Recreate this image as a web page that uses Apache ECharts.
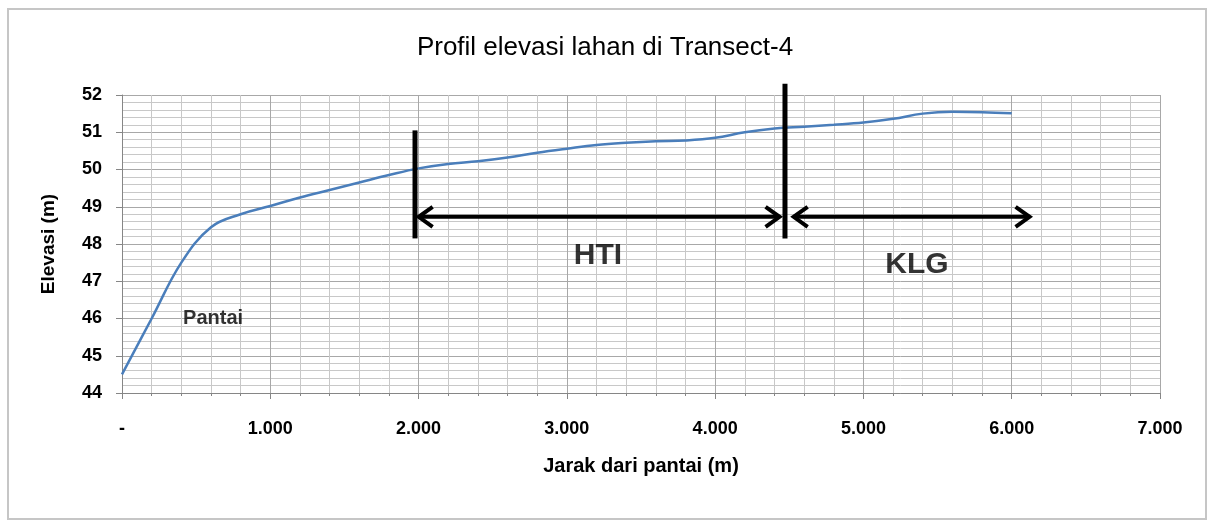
<!DOCTYPE html>
<html>
<head>
<meta charset="utf-8">
<script src="https://cdn.jsdelivr.net/npm/echarts@6/dist/echarts.min.js"></script>
<style>
html, body { margin: 0; padding: 0; background: #fff; }
#chart { width: 1210px; height: 521px; }
</style>
</head>
<body>
<div id="chart"></div>
<script>
// jarak dari pantai (m) dan elevasi (m)
var jarak = [0, 200, 400, 600, 800, 1000, 1200, 1400, 1600, 1800, 2000, 2200, 2400, 2600, 2800, 3000,
  3200, 3400, 3600, 3800, 4000, 4200, 4400, 4600, 4800, 5000, 5200, 5400, 5600, 5800, 6000];
var elevasi = [44.5, 46.0, 47.5, 48.45, 48.8, 49.02, 49.25, 49.45, 49.65, 49.85, 50.03, 50.15, 50.22, 50.32, 50.45, 50.56,
  50.66, 50.72, 50.76, 50.78, 50.85, 51.0, 51.1, 51.15, 51.2, 51.26, 51.36, 51.5, 51.55, 51.54, 51.51];

// garis batas zona: [x, elevasi atas, elevasi bawah]
var batasZona = [[1976, 51.05, 48.15], [4471, 52.3, 48.15]];
// panah zona: [x awal, x akhir, elevasi]
var panahZona = [[1987, 4448, 48.73], [4516, 6134, 48.73]];
// teks zona: [x, elevasi, teks]
var teksPantai = [[614, 46.0, 'Pantai']];
var teksZona = [[3210, 47.68, 'HTI'], [5361, 47.44, 'KLG']];

var font = 'Liberation Sans';

function fmtRibuan(v) {
  if (v === 0) return '-';
  return String(v).replace(/\B(?=(\d{3})+(?!\d))/g, '.');
}

var myChart = echarts.init(document.getElementById('chart'));

var option = {
  backgroundColor: '#fff',
  animation: false,
  title: {
    text: 'Profil elevasi lahan di Transect-4',
    left: 'center',
    top: 30,
    textStyle: { fontFamily: font, fontSize: 26, fontWeight: 'normal', color: '#000' }
  },
  graphic: [{
    type: 'rect',
    shape: { x: 8, y: 9, width: 1198, height: 510 },
    style: { fill: 'none', stroke: '#c6c6c6', lineWidth: 2 },
    silent: true
  }],
  grid: { left: 122, right: 50, top: 95, bottom: 128 },
  xAxis: {
    type: 'value',
    min: 0,
    max: 7000,
    interval: 1000,
    name: 'Jarak dari pantai (m)',
    nameLocation: 'middle',
    nameGap: 63,
    nameTextStyle: { fontFamily: font, fontSize: 20, fontWeight: 'bold', color: '#000' },
    axisLine: { lineStyle: { color: '#868686', width: 1 } },
    axisTick: { show: true, length: 6, lineStyle: { color: '#868686' } },
    minorTick: { show: true, splitNumber: 5, length: 3, lineStyle: { color: '#868686' } },
    axisLabel: { margin: 27, fontFamily: font, fontSize: 18, fontWeight: 'bold', color: '#000', formatter: fmtRibuan },
    splitLine: { show: true, lineStyle: { color: '#a8a8a8', width: 1 } },
    minorSplitLine: { show: true, lineStyle: { color: '#c8c8c8', width: 1 } }
  },
  yAxis: {
    type: 'value',
    min: 44,
    max: 52,
    interval: 1,
    name: 'Elevasi (m)',
    nameLocation: 'middle',
    nameGap: 64,
    nameTextStyle: { fontFamily: font, fontSize: 19, fontWeight: 'bold', color: '#000' },
    axisLine: { show: true, lineStyle: { color: '#868686', width: 1 } },
    axisTick: { show: true, length: 6, lineStyle: { color: '#868686' } },
    minorTick: { show: false },
    axisLabel: { margin: 20, fontFamily: font, fontSize: 18, fontWeight: 'bold', color: '#000' },
    splitLine: { show: true, lineStyle: { color: '#a8a8a8', width: 1 } },
    minorSplitLine: { show: true, lineStyle: { color: '#c8c8c8', width: 1 } }
  },
  series: [
    {
      name: 'Elevasi',
      type: 'line',
      data: jarak.map(function (x, i) { return [x, elevasi[i]]; }),
      smooth: 0.4,
      showSymbol: false,
      lineStyle: { color: '#4a7ebb', width: 2.5 },
      z: 3
    },
    {
      // garis batas vertikal
      type: 'custom',
      data: batasZona,
      clip: false,
      z: 4,
      renderItem: function (params, api) {
        var a = api.coord([api.value(0), api.value(1)]);
        var b = api.coord([api.value(0), api.value(2)]);
        return {
          type: 'line',
          shape: { x1: a[0], y1: a[1], x2: b[0], y2: b[1] },
          style: { stroke: '#000', lineWidth: 5 }
        };
      }
    },
    {
      // panah dua arah
      type: 'custom',
      data: panahZona,
      clip: false,
      z: 4,
      renderItem: function (params, api) {
        var a = api.coord([api.value(0), api.value(2)]);
        var b = api.coord([api.value(1), api.value(2)]);
        var st = { stroke: '#000', lineWidth: 4, fill: 'none', lineJoin: 'miter' };
        return {
          type: 'group',
          children: [
            { type: 'line', shape: { x1: a[0] + 2, y1: a[1], x2: b[0] - 2, y2: b[1] }, style: st },
            { type: 'polyline', shape: { points: [[a[0] + 16, a[1] - 10], [a[0] + 2, a[1]], [a[0] + 16, a[1] + 10]] }, style: st },
            { type: 'polyline', shape: { points: [[b[0] - 16, b[1] - 10], [b[0] - 2, b[1]], [b[0] - 16, b[1] + 10]] }, style: st }
          ]
        };
      }
    },
    {
      type: 'scatter',
      data: teksPantai,
      symbolSize: 0,
      z: 5,
      label: {
        show: true, position: 'inside', formatter: function (p) { return p.value[2]; },
        fontFamily: font, fontSize: 20, fontWeight: 'bold', color: '#000'
      }
    },
    {
      type: 'scatter',
      data: teksZona,
      symbolSize: 0,
      z: 5,
      label: {
        show: true, position: 'inside', formatter: function (p) { return p.value[2]; },
        fontFamily: font, fontSize: 30, fontWeight: 'bold', color: '#000'
      }
    }
  ]
};

myChart.setOption(option);
window.onresize = function () {
  myChart ? myChart.resize() : '';
};
</script>
</body>
</html>
